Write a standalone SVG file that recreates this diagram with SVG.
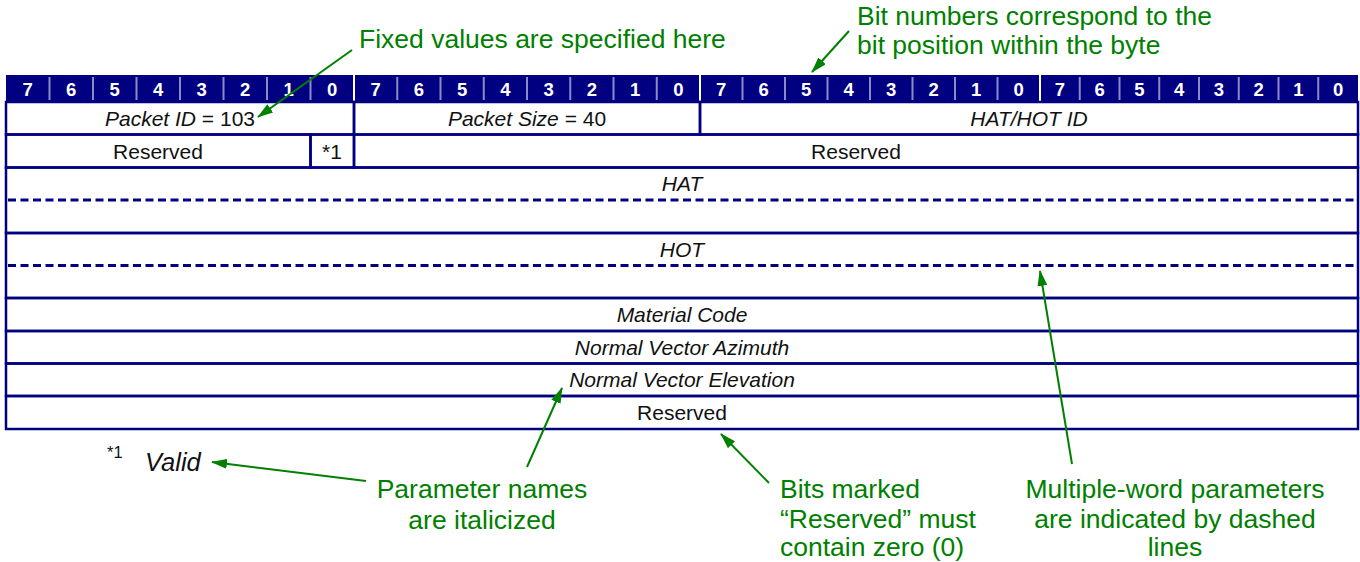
<svg xmlns="http://www.w3.org/2000/svg" width="1360" height="562" viewBox="0 0 1360 562">
  <style>
    .hdr { fill: #000080; }
    .bitnum { font-family: "Liberation Sans", Arial, sans-serif; font-size: 18.5px; font-weight: bold; fill: #ffffff; text-anchor: middle; }
    .sep { stroke: #8a8ac4; stroke-width: 2; }
    .bytesep { stroke: #ffffff; stroke-width: 2; }
    .rule { stroke: #000080; stroke-width: 2.5; fill: none; }
    .dash { stroke: #000080; stroke-width: 3; stroke-dasharray: 8 4.5; fill: none; }
    .field { font-family: "Liberation Sans", Arial, sans-serif; font-size: 21px; fill: #111111; text-anchor: middle; }
    .it { font-style: italic; }
    .note { font-family: "Liberation Sans", Arial, sans-serif; font-size: 26.5px; fill: #008000; }
    .arrow { stroke: #008000; stroke-width: 2; fill: none; marker-end: url(#head); }
  </style>
  <defs>
    <marker id="head" viewBox="0 0 16 10" refX="15" refY="5" markerWidth="16" markerHeight="10" markerUnits="userSpaceOnUse" orient="auto">
      <path d="M0,0 L16,5 L0,10 Z" fill="#008000"/>
    </marker>
  </defs>

  <!-- bit number header -->
  <g id="header">
    <rect class="hdr" x="6" y="75" width="1352" height="27"/>
    <g>
      <line class="sep" x1="49.5" y1="77" x2="49.5" y2="100"/>
      <line class="sep" x1="93" y1="77" x2="93" y2="100"/>
      <line class="sep" x1="136.5" y1="77" x2="136.5" y2="100"/>
      <line class="sep" x1="180" y1="77" x2="180" y2="100"/>
      <line class="sep" x1="223.5" y1="77" x2="223.5" y2="100"/>
      <line class="sep" x1="267" y1="77" x2="267" y2="100"/>
      <line class="sep" x1="310.5" y1="77" x2="310.5" y2="100"/>
      <line class="sep" x1="397.25" y1="77" x2="397.25" y2="100"/>
      <line class="sep" x1="440.5" y1="77" x2="440.5" y2="100"/>
      <line class="sep" x1="483.75" y1="77" x2="483.75" y2="100"/>
      <line class="sep" x1="527" y1="77" x2="527" y2="100"/>
      <line class="sep" x1="570.25" y1="77" x2="570.25" y2="100"/>
      <line class="sep" x1="613.5" y1="77" x2="613.5" y2="100"/>
      <line class="sep" x1="656.75" y1="77" x2="656.75" y2="100"/>
      <line class="sep" x1="742.5" y1="77" x2="742.5" y2="100"/>
      <line class="sep" x1="785" y1="77" x2="785" y2="100"/>
      <line class="sep" x1="827.5" y1="77" x2="827.5" y2="100"/>
      <line class="sep" x1="870" y1="77" x2="870" y2="100"/>
      <line class="sep" x1="912.5" y1="77" x2="912.5" y2="100"/>
      <line class="sep" x1="955" y1="77" x2="955" y2="100"/>
      <line class="sep" x1="997.5" y1="77" x2="997.5" y2="100"/>
      <line class="sep" x1="1079.75" y1="77" x2="1079.75" y2="100"/>
      <line class="sep" x1="1119.5" y1="77" x2="1119.5" y2="100"/>
      <line class="sep" x1="1159.25" y1="77" x2="1159.25" y2="100"/>
      <line class="sep" x1="1199" y1="77" x2="1199" y2="100"/>
      <line class="sep" x1="1238.75" y1="77" x2="1238.75" y2="100"/>
      <line class="sep" x1="1278.5" y1="77" x2="1278.5" y2="100"/>
      <line class="sep" x1="1318.25" y1="77" x2="1318.25" y2="100"/>
      <line class="bytesep" x1="354" y1="75" x2="354" y2="102"/>
      <line class="bytesep" x1="700" y1="75" x2="700" y2="102"/>
      <line class="bytesep" x1="1040" y1="75" x2="1040" y2="102"/>
    </g>
    <g class="bitnum">
      <text x="27.75" y="95.5">7</text><text x="71.25" y="95.5">6</text><text x="114.75" y="95.5">5</text><text x="158.25" y="95.5">4</text>
      <text x="201.75" y="95.5">3</text><text x="245.25" y="95.5">2</text><text x="288.75" y="95.5">1</text><text x="332.25" y="95.5">0</text>
      <text x="375.6" y="95.5">7</text><text x="418.9" y="95.5">6</text><text x="462.1" y="95.5">5</text><text x="505.4" y="95.5">4</text>
      <text x="548.6" y="95.5">3</text><text x="591.9" y="95.5">2</text><text x="635.1" y="95.5">1</text><text x="678.4" y="95.5">0</text>
      <text x="721.25" y="95.5">7</text><text x="763.75" y="95.5">6</text><text x="806.25" y="95.5">5</text><text x="848.75" y="95.5">4</text>
      <text x="891.25" y="95.5">3</text><text x="933.75" y="95.5">2</text><text x="976.25" y="95.5">1</text><text x="1018.75" y="95.5">0</text>
      <text x="1059.9" y="95.5">7</text><text x="1099.6" y="95.5">6</text><text x="1139.4" y="95.5">5</text><text x="1179.1" y="95.5">4</text>
      <text x="1218.9" y="95.5">3</text><text x="1258.6" y="95.5">2</text><text x="1298.4" y="95.5">1</text><text x="1338.1" y="95.5">0</text>
    </g>
  </g>

  <!-- packet fields -->
  <g id="packet-id">
    <rect class="rule" x="6" y="102" width="348" height="32.5"/>
    <text class="field" x="180" y="126"><tspan class="it">Packet ID</tspan> = 103</text>
  </g>
  <g id="packet-size">
    <rect class="rule" x="354" y="102" width="346" height="32.5"/>
    <text class="field" x="527" y="126"><tspan class="it">Packet Size</tspan> = 40</text>
  </g>
  <g id="hat-hot-id">
    <rect class="rule" x="700" y="102" width="658" height="32.5"/>
    <text class="field it" x="1029" y="126">HAT/HOT ID</text>
  </g>
  <g id="reserved-1">
    <rect class="rule" x="6" y="134.5" width="304.5" height="33"/>
    <text class="field" x="158" y="158.5">Reserved</text>
  </g>
  <g id="valid-flag">
    <rect class="rule" x="310.5" y="134.5" width="43.5" height="33"/>
    <text class="field" x="332" y="158.5">*1</text>
  </g>
  <g id="reserved-2">
    <rect class="rule" x="354" y="134.5" width="1004" height="33"/>
    <text class="field" x="856" y="158.5">Reserved</text>
  </g>
  <g id="hat">
    <rect class="rule" x="6" y="167.5" width="1352" height="65.5"/>
    <line class="dash" x1="8" y1="200" x2="1356" y2="200"/>
    <text class="field it" x="682" y="191">HAT</text>
  </g>
  <g id="hot">
    <rect class="rule" x="6" y="233" width="1352" height="65"/>
    <line class="dash" x1="8" y1="265.5" x2="1356" y2="265.5"/>
    <text class="field it" x="682" y="256.5">HOT</text>
  </g>
  <g id="material-code">
    <rect class="rule" x="6" y="298" width="1352" height="33"/>
    <text class="field it" x="682" y="322">Material Code</text>
  </g>
  <g id="normal-azimuth">
    <rect class="rule" x="6" y="331" width="1352" height="32.5"/>
    <text class="field it" x="682" y="354.5">Normal Vector Azimuth</text>
  </g>
  <g id="normal-elevation">
    <rect class="rule" x="6" y="363.5" width="1352" height="32.5"/>
    <text class="field it" x="682" y="387">Normal Vector Elevation</text>
  </g>
  <g id="reserved-3">
    <rect class="rule" x="6" y="396" width="1352" height="33"/>
    <text class="field" x="682" y="420">Reserved</text>
  </g>

  <!-- footnote -->
  <g id="footnote">
    <text x="107" y="458" font-family="'Liberation Sans', Arial, sans-serif" font-size="16.5" fill="#111111">*1</text>
    <text x="145" y="471" font-family="'Liberation Sans', Arial, sans-serif" font-size="25.5" font-style="italic" fill="#111111">Valid</text>
  </g>

  <!-- callouts -->
  <g id="note-fixed">
    <text class="note" x="359" y="48">Fixed values are specified here</text>
  </g>
  <g id="note-bits">
    <text class="note" x="857" y="25">Bit numbers correspond to the</text>
    <text class="note" x="857" y="54">bit position within the byte</text>
  </g>
  <g id="note-names">
    <text class="note" x="482" y="498" text-anchor="middle">Parameter names</text>
    <text class="note" x="482" y="528.5" text-anchor="middle">are italicized</text>
  </g>
  <g id="note-reserved">
    <text class="note" x="780" y="498">Bits marked</text>
    <text class="note" x="780" y="527.5">“Reserved” must</text>
    <text class="note" x="780" y="556">contain zero (0)</text>
  </g>
  <g id="note-dashed">
    <text class="note" x="1175" y="498" text-anchor="middle">Multiple-word parameters</text>
    <text class="note" x="1175" y="527.5" text-anchor="middle">are indicated by dashed</text>
    <text class="note" x="1175" y="556" text-anchor="middle">lines</text>
  </g>

  <!-- connectors -->
  <g id="connectors">
    <line class="arrow" x1="352" y1="50" x2="258" y2="117"/>
    <line class="arrow" x1="849" y1="31" x2="812" y2="72"/>
    <line class="arrow" x1="366" y1="481" x2="212" y2="462"/>
    <line class="arrow" x1="527" y1="467" x2="562" y2="388"/>
    <line class="arrow" x1="769" y1="483" x2="721" y2="434"/>
    <line class="arrow" x1="1072" y1="464" x2="1040" y2="271"/>
  </g>
</svg>
